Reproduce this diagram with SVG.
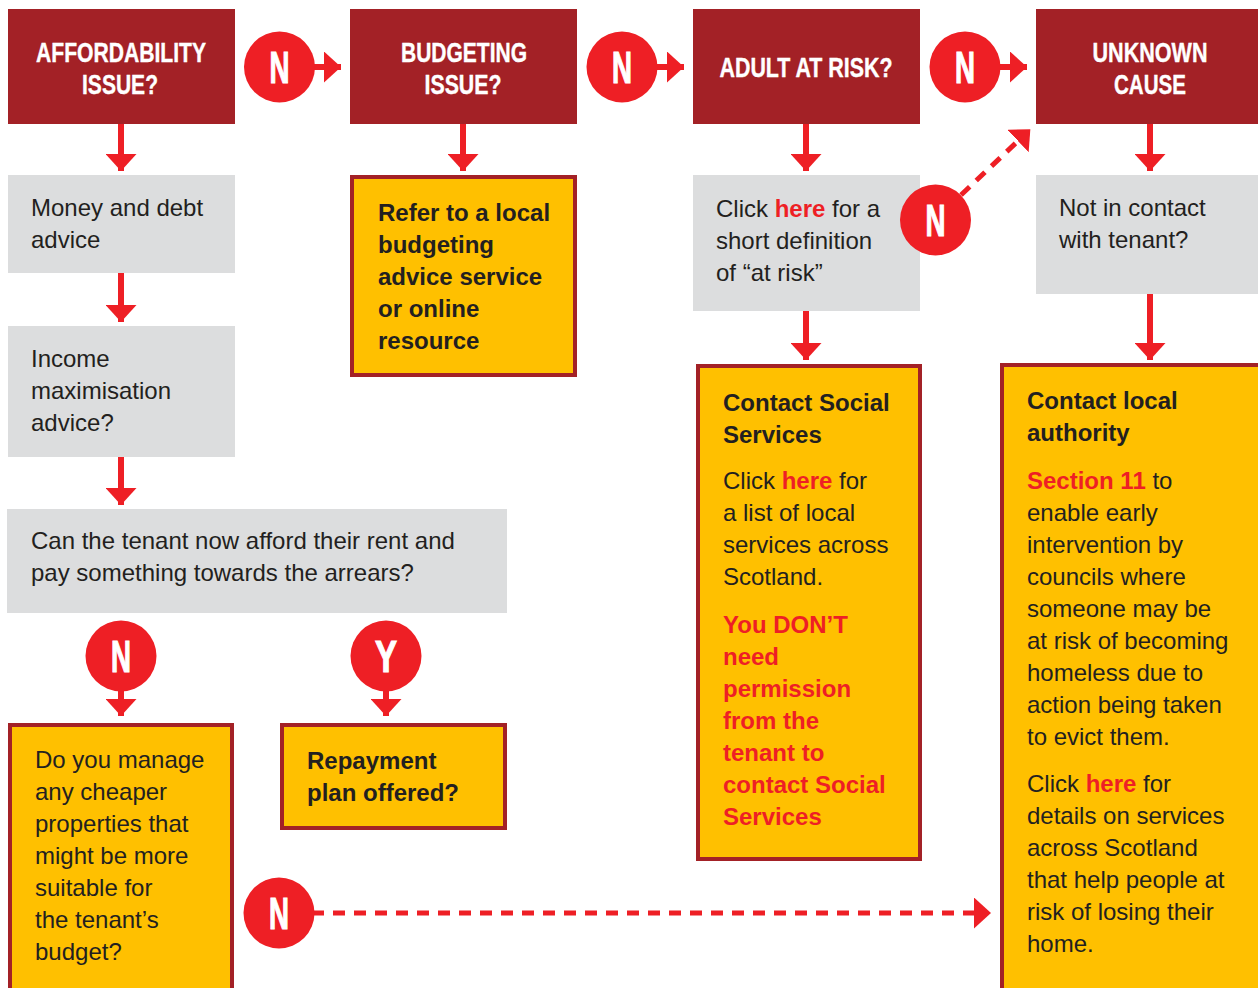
<svg xmlns="http://www.w3.org/2000/svg" width="1258" height="988" viewBox="0 0 1258 988">
<style>
.hdr{fill:#A32126}
.hdrt{font-family:"Liberation Sans",Arial,sans-serif;font-weight:bold;font-size:28px;fill:#fff;stroke:#fff;stroke-width:0.4;text-anchor:middle}
.gray{fill:#DCDDDE}
.yel{fill:#FFC000;stroke:#A32126;stroke-width:4}
.t{font-family:"Liberation Sans",Arial,sans-serif;font-size:24px;fill:#231F20}
.b{font-weight:bold}
.r{fill:#EE1F25;font-weight:bold}
.circ{fill:#EE1F25}
.ct{font-family:"Liberation Sans",Arial,sans-serif;font-weight:bold;font-size:45px;fill:#fff;stroke:#fff;stroke-width:1.2;text-anchor:middle}
.ln{stroke:#EE1F25;stroke-width:6;fill:none}
.dash{stroke:#EE1F25;stroke-width:5;fill:none;stroke-dasharray:12 9}
</style>
<defs>
<marker id="ah" markerUnits="userSpaceOnUse" markerWidth="17" markerHeight="31" refX="17" refY="15.5" orient="auto" viewBox="0 0 17 31">
<path d="M0,0 L17,15.5 L0,31 z" fill="#EE1F25"/>
</marker>
<marker id="ahd" markerUnits="userSpaceOnUse" markerWidth="17" markerHeight="31" refX="0" refY="15.5" orient="auto" viewBox="0 0 17 31">
<path d="M0,0 L17,15.5 L0,31 z" fill="#EE1F25"/>
</marker>
</defs>

<g id="connectors">
<line class="ln" x1="121" y1="124" x2="121" y2="171" marker-end="url(#ah)"/>
<line class="ln" x1="121" y1="273" x2="121" y2="322" marker-end="url(#ah)"/>
<line class="ln" x1="121" y1="457" x2="121" y2="505" marker-end="url(#ah)"/>
<line class="ln" x1="463" y1="124" x2="463" y2="171" marker-end="url(#ah)"/>
<line class="ln" x1="806" y1="124" x2="806" y2="171" marker-end="url(#ah)"/>
<line class="ln" x1="806" y1="311" x2="806" y2="360" marker-end="url(#ah)"/>
<line class="ln" x1="1150" y1="124" x2="1150" y2="171" marker-end="url(#ah)"/>
<line class="ln" x1="1150" y1="294" x2="1150" y2="360" marker-end="url(#ah)"/>
<line class="ln" x1="310" y1="67" x2="341" y2="67" marker-end="url(#ah)"/>
<line class="ln" x1="652" y1="67" x2="684" y2="67" marker-end="url(#ah)"/>
<line class="ln" x1="995" y1="67" x2="1027" y2="67" marker-end="url(#ah)"/>
<line class="ln" x1="121" y1="686" x2="121" y2="716" marker-end="url(#ah)"/>
<line class="ln" x1="386" y1="686" x2="386" y2="716" marker-end="url(#ah)"/>
<line class="dash" x1="961" y1="195" x2="1018" y2="141" marker-end="url(#ahd)"/>
<line class="dash" x1="312" y1="913" x2="974" y2="913" marker-end="url(#ahd)"/>
</g>

<g id="affordability">
<rect class="hdr" x="8" y="9" width="227" height="115"/>
<text class="hdrt" x="121" y="62" textLength="170" lengthAdjust="spacingAndGlyphs">AFFORDABILITY</text>
<text class="hdrt" x="120" y="94" textLength="76" lengthAdjust="spacingAndGlyphs">ISSUE?</text>
</g>
<g id="budgeting">
<rect class="hdr" x="350" y="9" width="227" height="115"/>
<text class="hdrt" x="464" y="62" textLength="126" lengthAdjust="spacingAndGlyphs">BUDGETING</text>
<text class="hdrt" x="463" y="94" textLength="77" lengthAdjust="spacingAndGlyphs">ISSUE?</text>
</g>
<g id="adult">
<rect class="hdr" x="693" y="9" width="227" height="115"/>
<text class="hdrt" x="806" y="77" textLength="173" lengthAdjust="spacingAndGlyphs">ADULT AT RISK?</text>
</g>
<g id="unknown">
<rect class="hdr" x="1036" y="9" width="222" height="115"/>
<text class="hdrt" x="1150" y="62" textLength="115" lengthAdjust="spacingAndGlyphs">UNKNOWN</text>
<text class="hdrt" x="1150" y="94" textLength="72" lengthAdjust="spacingAndGlyphs">CAUSE</text>
</g>

<g id="n1"><circle class="circ" cx="279.5" cy="67" r="35.5"/><text class="ct" x="279.5" y="83" textLength="20" lengthAdjust="spacingAndGlyphs">N</text></g>
<g id="n2"><circle class="circ" cx="622" cy="67" r="35.5"/><text class="ct" x="622" y="83" textLength="20" lengthAdjust="spacingAndGlyphs">N</text></g>
<g id="n3"><circle class="circ" cx="965" cy="67" r="35.5"/><text class="ct" x="965" y="83" textLength="20" lengthAdjust="spacingAndGlyphs">N</text></g>

<g id="money">
<rect class="gray" x="8" y="175" width="227" height="98"/>
<text class="t" x="31" y="216">Money and debt</text>
<text class="t" x="31" y="248">advice</text>
</g>
<g id="income">
<rect class="gray" x="8" y="326" width="227" height="131"/>
<text class="t" x="31" y="367">Income</text>
<text class="t" x="31" y="399">maximisation</text>
<text class="t" x="31" y="431">advice?</text>
</g>
<g id="afford">
<rect class="gray" x="7" y="509" width="500" height="104"/>
<text class="t" x="31" y="549">Can the tenant now afford their rent and</text>
<text class="t" x="31" y="581">pay something towards the arrears?</text>
</g>

<g id="refer">
<rect class="yel" x="352" y="177" width="223" height="198"/>
<text class="t b" x="378" y="221">Refer to a local</text>
<text class="t b" x="378" y="253">budgeting</text>
<text class="t b" x="378" y="285">advice service</text>
<text class="t b" x="378" y="317">or online</text>
<text class="t b" x="378" y="349">resource</text>
</g>

<g id="atrisk">
<rect class="gray" x="693" y="175" width="227" height="136"/>
<text class="t" x="716" y="217">Click <tspan class="r">here</tspan> for a</text>
<text class="t" x="716" y="249">short definition</text>
<text class="t" x="716" y="281">of “at risk”</text>
</g>
<g id="n4"><circle class="circ" cx="935.5" cy="220" r="35.5"/><text class="ct" x="935.5" y="236" textLength="20" lengthAdjust="spacingAndGlyphs">N</text></g>

<g id="contactss">
<rect class="yel" x="698" y="366" width="222" height="493"/>
<text class="t b" x="723" y="411">Contact Social</text>
<text class="t b" x="723" y="443">Services</text>
<text class="t" x="723" y="489">Click <tspan class="r">here</tspan> for</text>
<text class="t" x="723" y="521">a list of local</text>
<text class="t" x="723" y="553">services across</text>
<text class="t" x="723" y="585">Scotland.</text>
<text class="t r" x="723" y="633">You DON’T</text>
<text class="t r" x="723" y="665">need</text>
<text class="t r" x="723" y="697">permission</text>
<text class="t r" x="723" y="729">from the</text>
<text class="t r" x="723" y="761">tenant to</text>
<text class="t r" x="723" y="793">contact Social</text>
<text class="t r" x="723" y="825">Services</text>
</g>

<g id="notcontact">
<rect class="gray" x="1036" y="175" width="222" height="119"/>
<text class="t" x="1059" y="216">Not in contact</text>
<text class="t" x="1059" y="248">with tenant?</text>
</g>

<g id="contactla">
<rect class="yel" x="1002" y="365" width="260" height="630"/>
<text class="t b" x="1027" y="409">Contact local</text>
<text class="t b" x="1027" y="441">authority</text>
<text class="t" x="1027" y="489"><tspan class="r">Section 11</tspan> to</text>
<text class="t" x="1027" y="521">enable early</text>
<text class="t" x="1027" y="553">intervention by</text>
<text class="t" x="1027" y="585">councils where</text>
<text class="t" x="1027" y="617">someone may be</text>
<text class="t" x="1027" y="649">at risk of becoming</text>
<text class="t" x="1027" y="681">homeless due to</text>
<text class="t" x="1027" y="713">action being taken</text>
<text class="t" x="1027" y="745">to evict them.</text>
<text class="t" x="1027" y="792">Click <tspan class="r">here</tspan> for</text>
<text class="t" x="1027" y="824">details on services</text>
<text class="t" x="1027" y="856">across Scotland</text>
<text class="t" x="1027" y="888">that help people at</text>
<text class="t" x="1027" y="920">risk of losing their</text>
<text class="t" x="1027" y="952">home.</text>
</g>

<g id="n5"><circle class="circ" cx="121" cy="656" r="35.5"/><text class="ct" x="121" y="672" textLength="20" lengthAdjust="spacingAndGlyphs">N</text></g>
<g id="y1"><circle class="circ" cx="386" cy="656" r="35.5"/><text class="ct" x="386" y="672" textLength="22" lengthAdjust="spacingAndGlyphs">Y</text></g>

<g id="cheaper">
<rect class="yel" x="10" y="725" width="222" height="270"/>
<text class="t" x="35" y="768">Do you manage</text>
<text class="t" x="35" y="800">any cheaper</text>
<text class="t" x="35" y="832">properties that</text>
<text class="t" x="35" y="864">might be more</text>
<text class="t" x="35" y="896">suitable for</text>
<text class="t" x="35" y="928">the tenant’s</text>
<text class="t" x="35" y="960">budget?</text>
</g>
<g id="repay">
<rect class="yel" x="282" y="725" width="223" height="103"/>
<text class="t b" x="307" y="769">Repayment</text>
<text class="t b" x="307" y="801">plan offered?</text>
</g>

<g id="n6"><circle class="circ" cx="279" cy="913" r="35.5"/><text class="ct" x="279" y="929" textLength="20" lengthAdjust="spacingAndGlyphs">N</text></g>
</svg>
